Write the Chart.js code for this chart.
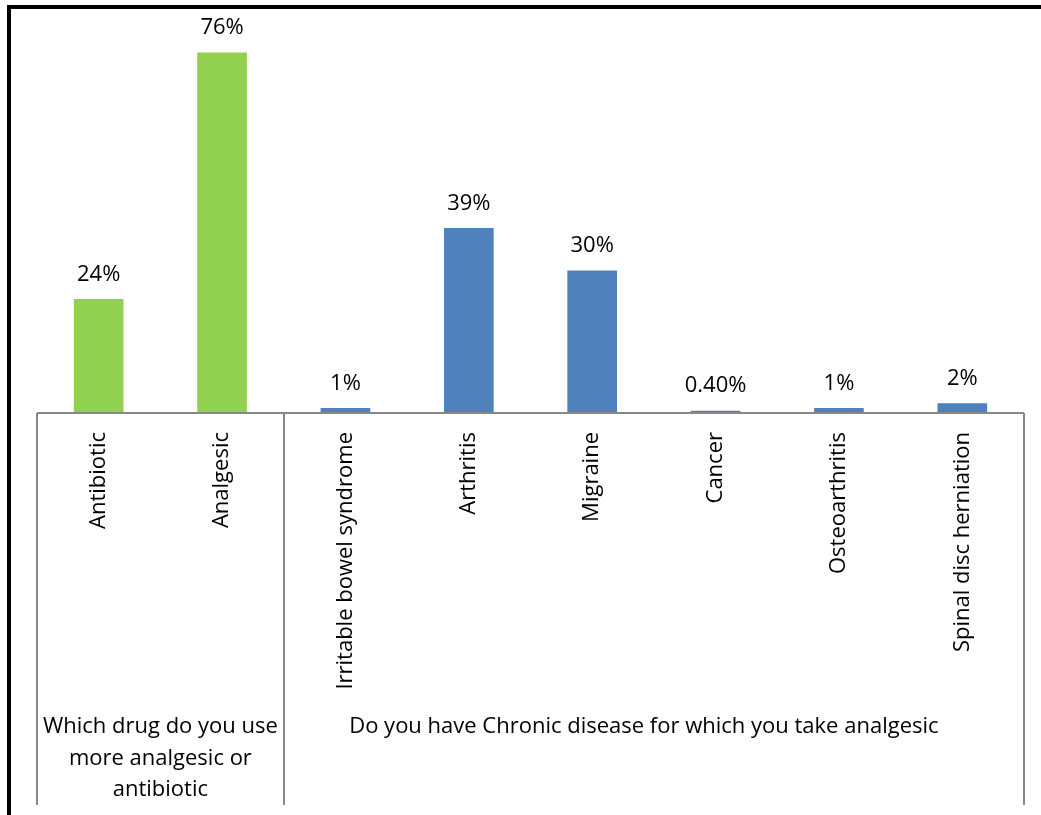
<!DOCTYPE html>
<html>
<head>
<meta charset="utf-8">
<script src="https://cdn.jsdelivr.net/npm/chart.js@4"></script>
<style>
  html, body { margin: 0; padding: 0; background: #fff; }
  #wrap { width: 1041px; height: 815px; position: relative; }
</style>
</head>
<body>
<div id="wrap"><canvas id="chart1" width="1041" height="815"></canvas></div>
<script>
const chart1 = document.querySelector('#chart1');

// categories and their values (percent)
const categories = ['Antibiotic', 'Analgesic', 'Irritable bowel syndrome', 'Arthritis', 'Migraine', 'Cancer', 'Osteoarthritis', 'Spinal disc herniation'];
const percentValues = [24, 76, 1, 39, 30, 0.4, 1, 2];
const barColors = ['#92D050', '#92D050', '#4F81BD', '#4F81BD', '#4F81BD', '#4F81BD', '#4F81BD', '#4F81BD'];

// question groups under the axis: label lines and how many categories each covers
const groupLabels = [
    ['Which drug do you use', 'more analgesic or', 'antibiotic'],
    ['Do you have Chronic disease for which you take analgesic']
];
const groupSizes = [2, 6];

const FONT = '22px "Open Sans", Lato, sans-serif';

const formatPercent = (v) => (v % 1 ? v.toFixed(2) : String(v)) + '%';

// white page + thick black frame on left and top
const framePlugin = {
    id: 'frame',
    beforeDraw(chart) {
        const ctx = chart.ctx;
        ctx.save();
        ctx.fillStyle = '#fff';
        ctx.fillRect(0, 0, chart.width, chart.height);
        ctx.fillStyle = '#000';
        ctx.fillRect(7, 5, 4, chart.height - 5);
        ctx.fillRect(7, 5, chart.width - 7, 4);
        ctx.restore();
    }
};

// value labels above each bar
const valueLabelPlugin = {
    id: 'valueLabels',
    afterDatasetsDraw(chart) {
        const ctx = chart.ctx;
        const meta = chart.getDatasetMeta(0);
        ctx.save();
        ctx.font = FONT;
        ctx.fillStyle = '#000';
        ctx.textAlign = 'center';
        ctx.textBaseline = 'middle';
        meta.data.forEach((bar, i) => {
            ctx.fillText(formatPercent(percentValues[i]), bar.x, bar.y - 25);
        });
        ctx.restore();
    }
};

// baseline, group divider lines, rotated category names and group titles
const axisPlugin = {
    id: 'groupedAxis',
    afterDraw(chart) {
        const ctx = chart.ctx;
        const area = chart.chartArea;
        const x = chart.scales.x;
        const base = area.bottom;
        const step = (area.right - area.left) / categories.length;
        ctx.save();
        ctx.strokeStyle = '#888';
        ctx.lineWidth = 2;
        ctx.beginPath();
        ctx.moveTo(area.left, base);
        ctx.lineTo(area.right, base);
        ctx.stroke();

        // dividers
        let idx = 0;
        const edges = [area.left];
        groupSizes.forEach((n) => {
            idx += n;
            edges.push(area.left + step * idx);
        });
        edges.forEach((ex) => {
            ctx.beginPath();
            ctx.moveTo(Math.round(ex), base);
            ctx.lineTo(Math.round(ex), 805);
            ctx.stroke();
        });

        ctx.font = FONT;
        ctx.fillStyle = '#000';

        // category names, reading upwards, ending just under the axis
        categories.forEach((name, i) => {
            const cx = x.getPixelForValue(i);
            ctx.save();
            ctx.translate(cx, base + 19);
            ctx.rotate(-Math.PI / 2);
            ctx.textAlign = 'right';
            ctx.textBaseline = 'middle';
            ctx.fillText(name, 0, 0);
            ctx.restore();
        });

        // group titles
        ctx.textAlign = 'center';
        ctx.textBaseline = 'middle';
        groupLabels.forEach((lines, g) => {
            const cx = (edges[g] + edges[g + 1]) / 2;
            lines.forEach((line, k) => {
                ctx.fillText(line, g === 0 ? cx : cx - 10, 727 + k * 31.5);
            });
        });
        ctx.restore();
    }
};

const data = {
    labels: categories,
    datasets: [{
        data: percentValues,
        backgroundColor: barColors,
        borderWidth: 0,
        barThickness: 49
    }]
};

const config = {
    type: 'bar',
    data: data,
    options: {
        responsive: false,
        animation: false,
        devicePixelRatio: 1,
        layout: {
            padding: { left: 37, right: 17, top: 34, bottom: 402 }
        },
        plugins: {
            legend: { display: false },
            tooltip: { enabled: false }
        },
        scales: {
            x: { display: false },
            y: { display: false, min: 0, max: 80 }
        }
    },
    plugins: [framePlugin, valueLabelPlugin, axisPlugin]
};

new Chart(chart1, config);
</script>
</body>
</html>
